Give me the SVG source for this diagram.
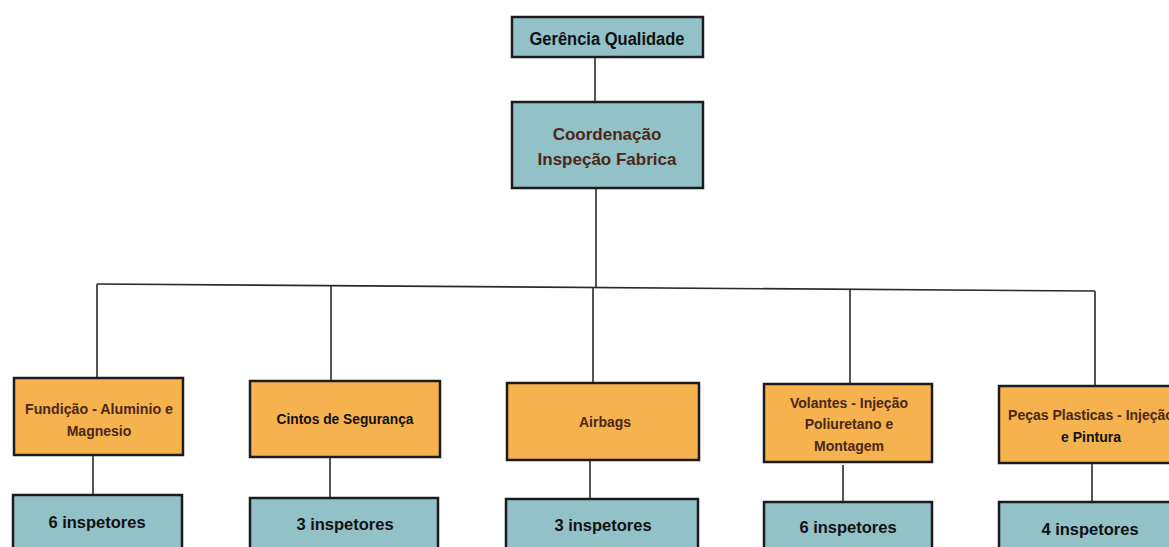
<svg xmlns="http://www.w3.org/2000/svg" width="1169" height="547" viewBox="0 0 1169 547">
  <style>
    .blue { fill: #93c1c8; stroke: #1c1c1c; stroke-width: 2.5; }
    .orange { fill: #f5b24f; stroke: #1c1c1c; stroke-width: 2.5; }
    .t { font-family: "Liberation Sans", Arial, sans-serif; font-weight: bold; text-anchor: middle; }
    .big { font-size: 17px; }
    .mid { font-size: 14px; }
    .count { font-size: 16.5px; }
    .brown { fill: #4a2816; }
    .black { fill: #111111; }
    .wire { stroke: #2a2a2a; stroke-width: 1.6; fill: none; }
  </style>
  <rect width="1169" height="547" fill="#ffffff"/>

  <g id="connectors">
    <line class="wire" x1="595" y1="57" x2="595" y2="102"/>
    <line class="wire" x1="596" y1="188" x2="596" y2="287"/>
    <line class="wire" x1="97" y1="284" x2="1095" y2="291"/>
    <line class="wire" x1="97" y1="284" x2="97" y2="378"/>
    <line class="wire" x1="331" y1="286" x2="331" y2="381"/>
    <line class="wire" x1="593" y1="287" x2="593" y2="383"/>
    <line class="wire" x1="850" y1="289" x2="850" y2="384"/>
    <line class="wire" x1="1095" y1="291" x2="1095" y2="386"/>
    <line class="wire" x1="93" y1="455" x2="93" y2="495"/>
    <line class="wire" x1="330" y1="457" x2="330" y2="498"/>
    <line class="wire" x1="590" y1="460" x2="590" y2="499"/>
    <line class="wire" x1="843" y1="465" x2="843" y2="502"/>
    <line class="wire" x1="1092" y1="463" x2="1092" y2="502"/>
  </g>

  <g id="gerencia">
    <rect class="blue" x="512" y="17" width="191" height="40"/>
    <text class="t black" x="607" y="45" font-size="18" textLength="155" lengthAdjust="spacingAndGlyphs">Gerência Qualidade</text>
  </g>

  <g id="coordenacao">
    <rect class="blue" x="512" y="102" width="191" height="86"/>
    <text class="t big brown" x="607" y="140">Coordenação</text>
    <text class="t big brown" x="607" y="165">Inspeção Fabrica</text>
  </g>

  <g id="fundicao">
    <rect class="orange" x="14" y="378" width="169" height="77"/>
    <text class="t mid brown" x="99" y="414" textLength="148" lengthAdjust="spacingAndGlyphs">Fundição - Aluminio e</text>
    <text class="t mid brown" x="99" y="436">Magnesio</text>
  </g>

  <g id="cintos">
    <rect class="orange" x="250" y="381" width="190" height="76"/>
    <text class="t mid black" x="345" y="424" textLength="137" lengthAdjust="spacingAndGlyphs">Cintos de Segurança</text>
  </g>

  <g id="airbags">
    <rect class="orange" x="507" y="383" width="192" height="77"/>
    <text class="t mid brown" x="605" y="427">Airbags</text>
  </g>

  <g id="volantes">
    <rect class="orange" x="764" y="384" width="168" height="78"/>
    <text class="t mid brown" x="849" y="408">Volantes - Injeção</text>
    <text class="t mid brown" x="849" y="429">Poliuretano e</text>
    <text class="t mid brown" x="849" y="451">Montagem</text>
  </g>

  <g id="pecas">
    <rect class="orange" x="999" y="386" width="184" height="77"/>
    <text class="t mid brown" x="1091" y="420">Peças Plasticas - Injeção</text>
    <text class="t mid black" x="1091" y="442">e Pintura</text>
  </g>

  <g id="insp-fundicao">
    <rect class="blue" x="13" y="495" width="169" height="60"/>
    <text class="t count black" x="97" y="528">6 inspetores</text>
  </g>

  <g id="insp-cintos">
    <rect class="blue" x="250" y="498" width="188" height="60"/>
    <text class="t count black" x="345" y="530">3 inspetores</text>
  </g>

  <g id="insp-airbags">
    <rect class="blue" x="506" y="499" width="192" height="60"/>
    <text class="t count black" x="603" y="531">3 inspetores</text>
  </g>

  <g id="insp-volantes">
    <rect class="blue" x="764" y="502" width="168" height="60"/>
    <text class="t count black" x="848" y="533">6 inspetores</text>
  </g>

  <g id="insp-pecas">
    <rect class="blue" x="999" y="502" width="184" height="60"/>
    <text class="t count black" x="1090" y="535">4 inspetores</text>
  </g>
</svg>
